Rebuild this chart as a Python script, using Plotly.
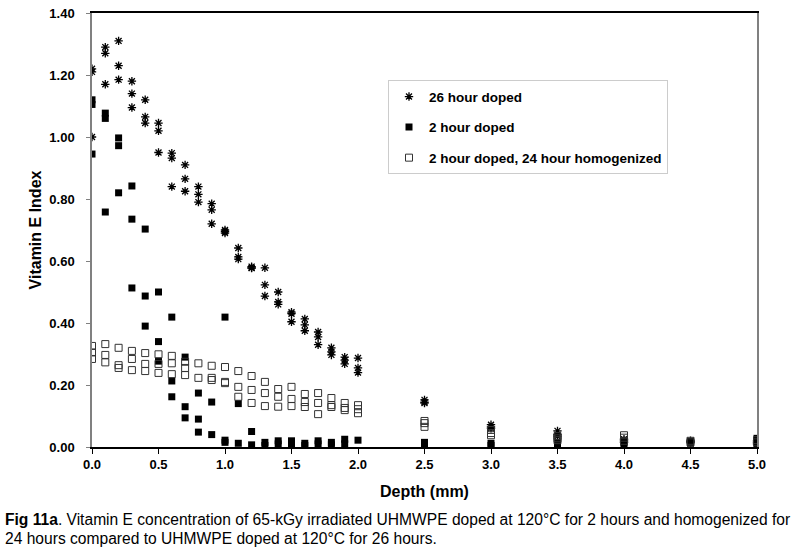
import plotly.graph_objects as go

# ---- data ----
depth_26h = ([0.0]*3 + [0.1]*3 + [0.2]*3 + [0.3]*3 + [0.4]*3 + [0.5]*3 + [0.6]*3 + [0.7]*3 +
             [0.8]*3 + [0.9]*3 + [1.0]*3 + [1.1]*3 + [1.2]*3 + [1.3]*3 + [1.4]*3 + [1.5]*3 +
             [1.6]*3 + [1.7]*3 + [1.8]*3 + [1.9]*3 + [2.0]*3 + [2.5]*3 + [3.0]*3 + [3.5]*3 +
             [4.0]*3 + [4.5]*3 + [5.0]*3)
vite_26h = [1.22, 1.21, 1.00,
            1.29, 1.27, 1.17,
            1.31, 1.23, 1.185,
            1.18, 1.14, 1.095,
            1.12, 1.065, 1.045,
            1.045, 1.02, 0.95,
            0.948, 0.932, 0.84,
            0.91, 0.865, 0.825,
            0.84, 0.815, 0.79,
            0.785, 0.765, 0.72,
            0.70, 0.69, 0.695,
            0.642, 0.613, 0.606,
            0.582, 0.577, 0.578,
            0.578, 0.523, 0.487,
            0.50, 0.468, 0.46,
            0.435, 0.43, 0.404,
            0.413, 0.394, 0.375,
            0.371, 0.355, 0.33,
            0.32, 0.307, 0.297,
            0.29, 0.28, 0.268,
            0.287, 0.255, 0.24,
            0.152, 0.142, 0.145,
            0.072, 0.065, 0.06,
            0.052, 0.04, 0.035,
            0.025, 0.02, 0.015,
            0.02, 0.018, 0.015,
            0.02, 0.015, 0.01]

depth_2h = ([0.0]*3 + [0.1]*3 + [0.2]*3 + [0.3]*3 + [0.4]*3 + [0.5]*3 + [0.6]*3 + [0.7]*3 +
            [0.8]*3 + [0.9]*2 + [1.0]*3 + [1.1]*2 + [1.2]*2 + [1.3]*2 + [1.4]*2 + [1.5]*2 +
            [1.6]*2 + [1.7]*2 + [1.8]*2 + [1.9]*2 + [2.0]*1 + [2.5]*2 + [3.0]*2 + [3.5]*2 +
            [4.0]*2 + [4.5]*2 + [5.0]*3)
vite_2h = [1.12, 1.105, 0.945,
           1.077, 1.06, 0.758,
           0.997, 0.972, 0.82,
           0.842, 0.735, 0.513,
           0.703, 0.487, 0.39,
           0.50, 0.34, 0.277,
           0.419, 0.213, 0.162,
           0.29, 0.13, 0.094,
           0.174, 0.09, 0.048,
           0.145, 0.04,
           0.419, 0.022, 0.015,
           0.14, 0.012,
           0.05, 0.007,
           0.015, 0.005,
           0.02, 0.01,
           0.02, 0.01,
           0.012, 0.005,
           0.02, 0.01,
           0.015, 0.007,
           0.025, 0.01,
           0.022,
           0.015, 0.008,
           0.012, 0.005,
           0.015, 0.008,
           0.015, 0.008,
           0.018, 0.012,
           0.028, 0.018, 0.008]

depth_hom = ([0.0]*3 + [0.1]*3 + [0.2]*3 + [0.3]*3 + [0.4]*3 + [0.5]*3 + [0.6]*3 + [0.7]*3 +
             [0.8]*2 + [0.9]*3 + [1.0]*3 + [1.1]*3 + [1.2]*3 + [1.3]*3 + [1.4]*3 + [1.5]*3 +
             [1.6]*3 + [1.7]*3 + [1.8]*3 + [1.9]*3 + [2.0]*3 + [2.5]*3 + [3.0]*3 + [3.5]*3 +
             [4.0]*3 + [4.5]*2 + [5.0]*2)
vite_hom = [0.326, 0.305, 0.284,
            0.332, 0.297, 0.273,
            0.32, 0.264, 0.255,
            0.31, 0.284, 0.248,
            0.303, 0.268, 0.245,
            0.299, 0.268, 0.239,
            0.294, 0.27, 0.235,
            0.275, 0.255, 0.232,
            0.27, 0.223,
            0.262, 0.223, 0.216,
            0.258, 0.21, 0.206,
            0.245, 0.194, 0.162,
            0.229, 0.184, 0.142,
            0.21, 0.174, 0.132,
            0.187, 0.162, 0.13,
            0.194, 0.155, 0.132,
            0.171, 0.145, 0.129,
            0.174, 0.142, 0.106,
            0.158, 0.129, 0.135,
            0.142, 0.126, 0.119,
            0.135, 0.122, 0.109,
            0.084, 0.077, 0.065,
            0.055, 0.045, 0.038,
            0.035, 0.028, 0.022,
            0.038, 0.03, 0.02,
            0.02, 0.015,
            0.022, 0.015]

x_ticks = [0.0, 0.5, 1.0, 1.5, 2.0, 2.5, 3.0, 3.5, 4.0, 4.5, 5.0]
y_ticks = [0.0, 0.2, 0.4, 0.6, 0.8, 1.0, 1.2, 1.4]

FONT = "Liberation Sans, Arial, sans-serif"

fig = go.Figure()
fig.add_trace(go.Scatter(x=depth_26h, y=vite_26h, mode="markers", name="<b>26 hour doped</b>",
                         legendgroup="a",
                         marker=dict(symbol="asterisk-open", size=7, color="black",
                                     line=dict(color="black", width=1.3))))
fig.add_trace(go.Scatter(x=depth_2h, y=vite_2h, mode="markers", name="<b>2 hour doped</b>",
                         legendgroup="b",
                         marker=dict(symbol="square", size=7, color="black",
                                     line=dict(color="black", width=0))))
fig.add_trace(go.Scatter(x=depth_hom, y=vite_hom, mode="markers",
                         name="<b>2 hour doped, 24 hour homogenized</b>",
                         legendgroup="c",
                         marker=dict(symbol="square-open", size=7, color="#333333",
                                     line=dict(color="#333333", width=1))))

fig.update_layout(
    width=800, height=547,
    margin=dict(l=92, r=43, t=13, b=100),
    paper_bgcolor="white", plot_bgcolor="white",
    font=dict(family=FONT, color="black", size=12),
    showlegend=True,
    legend=dict(x=(388 - 92) / 665, y=0.845, xanchor="left", yanchor="top",
                bgcolor="white", bordercolor="#cccccc", borderwidth=1,
                font=dict(size=13.5, family=FONT), tracegroupgap=10,
                itemwidth=30),
    xaxis=dict(range=[0, 5], tickvals=x_ticks, ticktext=[f"<b>{v:.1f}</b>" for v in x_ticks],
               showgrid=False, zeroline=False, showline=True, linecolor="black", linewidth=1.5,
               mirror=True, ticks="outside", ticklen=5, tickcolor="black", automargin=False,
               tickfont=dict(size=13),
               title=dict(text="<b>Depth (mm)</b>", font=dict(size=16), standoff=14)),
    yaxis=dict(range=[0, 1.4], tickvals=y_ticks, ticktext=[f"<b>{v:.2f}</b>" for v in y_ticks],
               showgrid=False, zeroline=False, showline=True, linecolor="#808080", linewidth=1.5,
               mirror=True, ticks="outside", ticklen=4, tickcolor="#808080", automargin=False,
               tickfont=dict(size=13), ticklabelstandoff=9,
               title=dict(text="<b>Vitamin E Index</b>", font=dict(size=16), standoff=4)),
)

fig.add_annotation(xref="paper", yref="paper", x=(3 - 92) / 665, y=(447 - 519) / 434,
                   xanchor="left", yanchor="middle", showarrow=False, align="left",
                   text="<b>Fig 11a</b>. Vitamin E concentration of 65-kGy irradiated UHMWPE doped at 120°C for 2 hours and homogenized for",
                   font=dict(size=15.6, family=FONT))
fig.add_annotation(xref="paper", yref="paper", x=(3 - 92) / 665, y=(447 - 538) / 434,
                   xanchor="left", yanchor="middle", showarrow=False, align="left",
                   text="24 hours compared to UHMWPE doped at 120°C for 26 hours.",
                   font=dict(size=15.6, family=FONT))

fig.write_html("out.html", config={"displayModeBar": False},
               post_script="document.body.style.margin='0px';")
